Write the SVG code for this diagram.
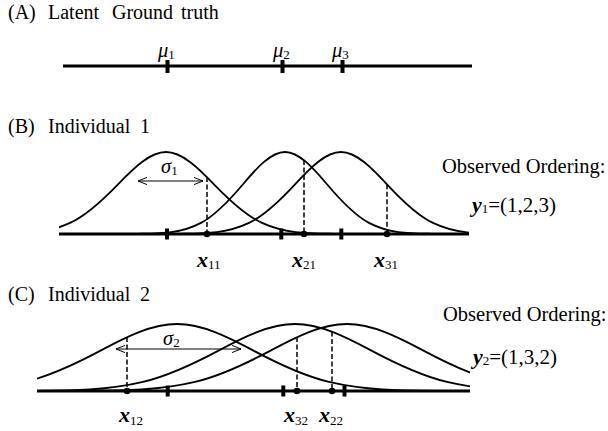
<svg xmlns="http://www.w3.org/2000/svg" width="608" height="431" viewBox="0 0 608 431">
<style>
text,tspan{font-family:"Liberation Serif","Times New Roman",serif;fill:#000}
.title{font-size:20px}
.greek{font-size:20.5px;font-style:italic}
.sub{font-size:13px;font-style:normal;font-weight:normal}
.xl{font-size:22px;font-style:italic;font-weight:bold}
.eq{font-size:21px;font-style:normal;font-weight:normal}
.obs{font-size:20.5px}
.axis{stroke:#000;stroke-width:3;fill:none}
.tick{stroke:#000;stroke-width:4}
.curve{stroke:#000;stroke-width:1.8;fill:none}
.dash{stroke:#000;stroke-width:1.5;stroke-dasharray:5 2.5}
.arrow{stroke:#000;stroke-width:1;fill:none;marker-start:url(#ah);marker-end:url(#ah)}
</style>
<defs>
<marker id="ah" viewBox="0 0 10 10" refX="10" refY="5" markerUnits="userSpaceOnUse" markerWidth="9" markerHeight="9" orient="auto-start-reverse">
<path d="M0,1 L10,5 L0,9" fill="none" stroke="#000" stroke-width="1.1"/>
</marker>
<clipPath id="clipB"><rect x="59" y="100" width="410" height="140"/></clipPath>
<clipPath id="clipC"><rect x="37" y="300" width="433" height="96"/></clipPath>
</defs>
<rect width="608" height="431" fill="#fff"/>

<g id="panelA">
<text class="title" font-size="21" y="19"><tspan x="8">(A)</tspan><tspan x="48">Latent</tspan><tspan x="112">Ground</tspan><tspan x="181">truth</tspan></text>
<path class="axis" d="M63,66 H472"/>
<g id="tickA1"><line class="tick" x1="167.5" y1="60" x2="167.5" y2="73"/><text class="greek" x="158" y="57">μ<tspan class="sub" dy="2">1</tspan></text></g>
<g id="tickA2"><line class="tick" x1="282.5" y1="60" x2="282.5" y2="73"/><text class="greek" x="273" y="57">μ<tspan class="sub" dy="2">2</tspan></text></g>
<g id="tickA3"><line class="tick" x1="342.5" y1="60" x2="342.5" y2="73"/><text class="greek" x="332" y="57">μ<tspan class="sub" dy="2">3</tspan></text></g>
</g>

<g id="panelB">
<text class="title" y="133"><tspan x="8">(B)</tspan><tspan x="48">Individual</tspan><tspan x="140">1</tspan></text>
<g clip-path="url(#clipB)">
<path id="curveB1" class="curve" d="M-50,234 L-2,233.82 C22,233.51 46,234 70,222.91 C86,215.51 102,200.85 118,184.27 C134,167.69 150,152 166,152 C182,152 198,167.69 214,184.27 C230,200.85 246,215.51 262,222.91 C286,234 310,233.51 334,233.82 L520,234"/>
<path id="curveB2" class="curve" d="M0,234 L138,233.82 C159,233.51 180,234 201,222.91 C215,215.51 229,200.85 243,184.27 C257,167.69 271,152 285,152 C299,152 313,167.69 327,184.27 C341,200.85 355,215.51 369,222.91 C390,234 411,233.51 432,233.82 L520,234"/>
<path id="curveB3" class="curve" d="M0,234 L180,233.82 C203,233.51 226,234 249,222.91 C264.33,215.51 279.67,200.85 295,184.27 C310.33,167.69 325.67,152 341,152 C356.33,152 371.67,167.69 387,184.27 C402.33,200.85 417.67,215.51 433,222.91 C456,234 479,233.51 502,233.82 L600,234"/>
</g>
<path class="axis" d="M59,234 H469"/>
<line class="tick" x1="167" y1="228.5" x2="167" y2="239.5"/>
<line class="tick" x1="281.3" y1="228.5" x2="281.3" y2="239.5"/>
<line class="tick" x1="341.3" y1="228.5" x2="341.3" y2="239.5"/>
<g id="sigma1"><line class="arrow" x1="138" y1="181" x2="203" y2="181"/><text class="greek" x="161" y="173">σ<tspan class="sub" dy="2">1</tspan></text></g>
<g id="x11"><line class="dash" x1="207" y1="177" x2="207" y2="234"/><circle cx="207" cy="234" r="3.3"/><text class="xl" x="197" y="267">x<tspan class="sub" dy="1.5">11</tspan></text></g>
<g id="x21"><line class="dash" x1="304" y1="160" x2="304" y2="234"/><circle cx="304" cy="234" r="3.3"/><text class="xl" x="292" y="267">x<tspan class="sub" dy="1.5">21</tspan></text></g>
<g id="x31"><line class="dash" x1="387" y1="184.3" x2="387" y2="234"/><circle cx="387" cy="234" r="3.3"/><text class="xl" x="374" y="267">x<tspan class="sub" dy="1.5">31</tspan></text></g>
<g id="obsB"><text class="obs" x="442" y="173">Observed Ordering:</text><text class="xl" x="472" y="212">y<tspan class="sub" dy="1">1</tspan><tspan class="eq" dy="-1">=(1,2,3)</tspan></text></g>
</g>

<g id="panelC">
<text class="title" y="301"><tspan x="8">(C)</tspan><tspan x="48">Individual</tspan><tspan x="140">2</tspan></text>
<g clip-path="url(#clipC)">
<path id="curveC1" class="curve" d="M-150,391 L-89,390.85 C-51,390.6 -13,391 25,381.93 C50.33,375.89 75.67,363.91 101,350.36 C126.33,336.82 151.67,324 177,324 C202.33,324 227.67,336.82 253,350.36 C278.33,363.91 303.67,375.89 329,381.93 C367,391 405,390.6 443,390.85 L600,391"/>
<path id="curveC2" class="curve" d="M0,391 L29,390.85 C67,390.6 105,391 143,381.93 C168.33,375.89 193.67,363.91 219,350.36 C244.33,336.82 269.67,324 295,324 C320.33,324 345.67,336.82 371,350.36 C396.33,363.91 421.67,375.89 447,381.93 C485,391 523,390.6 561,390.85 L600,391"/>
<path id="curveC3" class="curve" d="M0,391 L81,390.85 C119,390.6 157,391 195,381.93 C220.33,375.89 245.67,363.91 271,350.36 C296.33,336.82 321.67,324 347,324 C372.33,324 397.67,336.82 423,350.36 C448.33,363.91 473.67,375.89 499,381.93 C537,391 575,390.6 613,390.85 L650,391"/>
</g>
<path class="axis" d="M37,391 H470"/>
<line class="tick" x1="167.7" y1="385.5" x2="167.7" y2="396.5"/>
<line class="tick" x1="283.3" y1="385.5" x2="283.3" y2="396.5"/>
<line class="tick" x1="344.5" y1="385.5" x2="344.5" y2="396.5"/>
<g id="sigma2"><line class="arrow" x1="116" y1="349" x2="241" y2="349"/><text class="greek" x="163" y="345">σ<tspan class="sub" dy="2">2</tspan></text></g>
<g id="x12"><line class="dash" x1="127" y1="337" x2="127" y2="391"/><circle cx="127" cy="391" r="3.3"/><text class="xl" x="119" y="422">x<tspan class="sub" dy="3">12</tspan></text></g>
<g id="x32"><line class="dash" x1="297" y1="337" x2="297" y2="391"/><circle cx="297" cy="391" r="3.3"/><text class="xl" x="284" y="422">x<tspan class="sub" dy="3">32</tspan></text></g>
<g id="x22"><line class="dash" x1="332" y1="331.5" x2="332" y2="391"/><circle cx="332" cy="391" r="3.3"/><text class="xl" x="319" y="422">x<tspan class="sub" dy="3">22</tspan></text></g>
<g id="obsC"><text class="obs" x="443" y="321">Observed Ordering:</text><text class="xl" x="473" y="364">y<tspan class="sub" dy="1">2</tspan><tspan class="eq" dy="-1">=(1,3,2)</tspan></text></g>
</g>
</svg>
